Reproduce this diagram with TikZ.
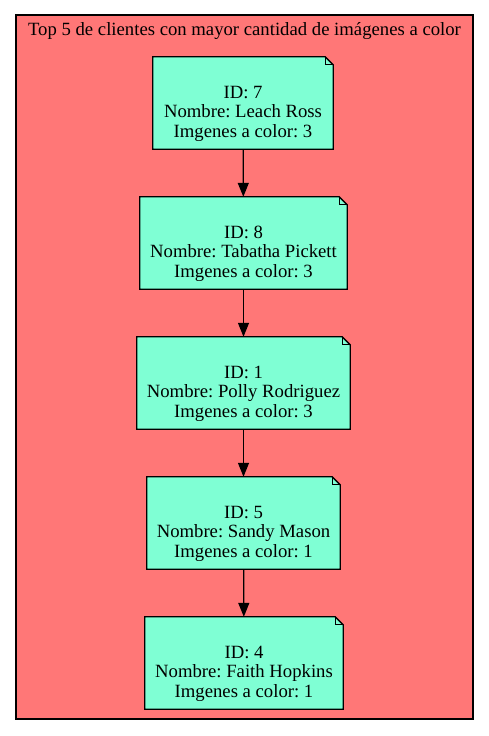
\documentclass[tikz,border=0pt]{standalone}
\usepackage{fontspec}
\setmainfont{Liberation Serif}
\usetikzlibrary{arrows.meta,backgrounds}
\definecolor{clusterfill}{RGB}{255,119,119}
\definecolor{notefill}{RGB}{127,255,212}
\tikzset{
  client/.style={inner sep=0pt, minimum height=92pt, align=center,
    font=\fontsize{18.7pt}{19.5pt}\selectfont\frenchspacing},
  link/.style={line width=1.3pt, -{Triangle[length=14pt,width=11pt]}},
  title/.style={font=\fontsize{18.7pt}{19.5pt}\selectfont, inner sep=0pt}
}
\newcommand\drawnote[1]{%
  \filldraw[fill=notefill, draw=black, line width=1.3pt]
    (#1.south west) -- (#1.north west) -- ([xshift=-8pt]#1.north east)
    -- ([yshift=-8pt]#1.north east) -- (#1.south east) -- cycle;
  \draw[line width=1.3pt] ([xshift=-8pt]#1.north east)
    -- ([xshift=-8pt,yshift=-8pt]#1.north east) -- ([yshift=-8pt]#1.north east);}
\begin{document}
\begin{tikzpicture}[x=1pt,y=-1pt]
\useasboundingbox (0,0) rectangle (489,736);
\node[title] (t) at (244.5,31) {Top 5 de clientes con mayor cantidad de imágenes a color};
\node[client, minimum width=180pt] (c7) at (243,103) {\strut\\ID: 7\\Nombre: Leach Ross\\Imgenes a color: 3};
\node[client, minimum width=207pt] (c8) at (243.5,243) {\strut\\ID: 8\\Nombre: Tabatha Pickett\\Imgenes a color: 3};
\node[client, minimum width=213pt] (c1) at (243.5,383) {\strut\\ID: 1\\Nombre: Polly Rodriguez\\Imgenes a color: 3};
\node[client, minimum width=193pt] (c5) at (243.5,523) {\strut\\ID: 5\\Nombre: Sandy Mason\\Imgenes a color: 1};
\node[client, minimum width=198pt] (c4) at (244,663) {\strut\\ID: 4\\Nombre: Faith Hopkins\\Imgenes a color: 1};
\begin{scope}[on background layer]
  \filldraw[fill=clusterfill, draw=black, line width=1.3pt] (16,15) rectangle (473,719);
  \drawnote{c7}\drawnote{c8}\drawnote{c1}\drawnote{c5}\drawnote{c4}
\end{scope}
\draw[link] (c7) -- (c8);
\draw[link] (c8) -- (c1);
\draw[link] (c1) -- (c5);
\draw[link] (c5) -- (c4);
\end{tikzpicture}
\end{document}
